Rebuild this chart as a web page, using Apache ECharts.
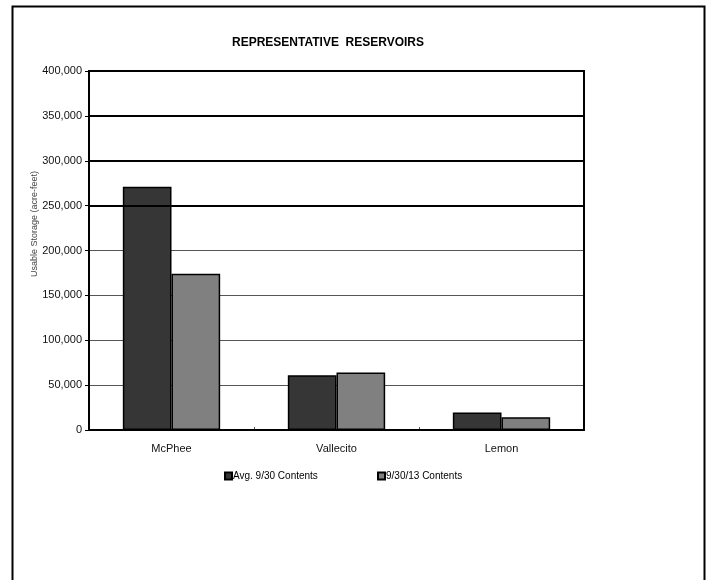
<!DOCTYPE html>
<html>
<head>
<meta charset="utf-8">
<title>Representative Reservoirs</title>
<script src="https://cdn.jsdelivr.net/npm/echarts@6/dist/echarts.min.js"></script>
<style>
  html, body { margin: 0; padding: 0; background: #fff; }
  #chart { width: 707px; height: 580px; }
</style>
</head>
<body>
<div id="chart"></div>
<script>
// Reservoir contents, acre-feet
const reservoirs = ['McPhee', 'Vallecito', 'Lemon'];
const avgContents = [271000, 61000, 19400];
const contents2013 = [174000, 64000, 14100];
const seriesNames = ['Avg. 9/30 Contents', '9/30/13 Contents'];
const yTicks = [0, 50000, 100000, 150000, 200000, 250000, 300000, 350000, 400000];
const heavyGridValues = [250000, 300000, 350000];

const FONT = "'Liberation Sans', Arial, sans-serif";

const chart = echarts.init(document.getElementById('chart'), null, { renderer: 'canvas' });

const fmt = v => v.toLocaleString('en-US');

const legendBase = {
  itemWidth: 7, itemHeight: 7, itemGap: 2,
  padding: 0,
  icon: 'rect',
  textStyle: { fontFamily: FONT, fontSize: 10, color: '#000', padding: [0, 0, 0, -4] },
  selectedMode: false
};

chart.setOption({
  animation: false,
  backgroundColor: '#ffffff',
  title: {
    text: 'REPRESENTATIVE  RESERVOIRS',
    left: 323,
    top: 32,
    textAlign: 'center',
    textStyle: { fontFamily: FONT, fontSize: 12, fontWeight: 'bold', color: '#000' }
  },
  legend: [
    Object.assign({ data: [seriesNames[0]], left: 224, top: 471 }, legendBase),
    Object.assign({ data: [seriesNames[1]], left: 377, top: 471 }, legendBase)
  ],
  grid: { left: 89, right: 123, top: 71, bottom: 150, containLabel: false },
  xAxis: {
    type: 'category',
    data: reservoirs,
    axisLine: { show: true, lineStyle: { color: '#000', width: 2 } },
    axisTick: { show: true, inside: true, length: 3, lineStyle: { color: '#555', width: 1 } },
    axisLabel: { fontFamily: FONT, fontSize: 11, color: '#111', margin: 13 },
    splitLine: { show: false }
  },
  yAxis: {
    type: 'value',
    min: yTicks[0],
    max: yTicks[yTicks.length - 1],
    interval: yTicks[1] - yTicks[0],
    axisLine: { show: true, lineStyle: { color: '#000', width: 2 } },
    axisTick: { show: true, length: 4, lineStyle: { color: '#000', width: 1 } },
    axisLabel: { fontFamily: FONT, fontSize: 11, color: '#111', margin: 7, formatter: fmt },
    splitLine: { show: true, lineStyle: { color: '#555', width: 1 } }
  },
  graphic: [
    // outer frame
    {
      type: 'rect', silent: true, z: 0,
      shape: { x: 12.5, y: 6.5, width: 692, height: 620 },
      style: { fill: 'none', stroke: '#000', lineWidth: 2 }
    },
    // plot frame
    {
      type: 'rect', silent: true, z: 10,
      shape: { x: 89, y: 71, width: 495, height: 359 },
      style: { fill: 'none', stroke: '#000', lineWidth: 2 }
    },
    // axis title
    {
      type: 'text', silent: true,
      x: 35, y: 224, rotation: Math.PI / 2,
      style: {
        text: 'Usable Storage (acre-feet)',
        fontFamily: FONT, fontSize: 9, fill: '#444',
        align: 'center', verticalAlign: 'middle'
      }
    }
  ],
  series: [
    {
      name: seriesNames[0],
      type: 'bar',
      data: avgContents,
      barGap: '0%',
      barCategoryGap: '41%',
      itemStyle: { color: '#363636', borderColor: '#000', borderWidth: 1.5 },
      markLine: {
        silent: true,
        symbol: 'none',
        label: { show: false },
        lineStyle: { color: '#000', width: 2, type: 'solid' },
        data: heavyGridValues.map(v => ({ yAxis: v }))
      },
      z: 3
    },
    {
      name: seriesNames[1],
      type: 'bar',
      data: contents2013,
      itemStyle: { color: '#808080', borderColor: '#000', borderWidth: 1.5 },
      z: 3
    }
  ]
});
</script>
</body>
</html>
